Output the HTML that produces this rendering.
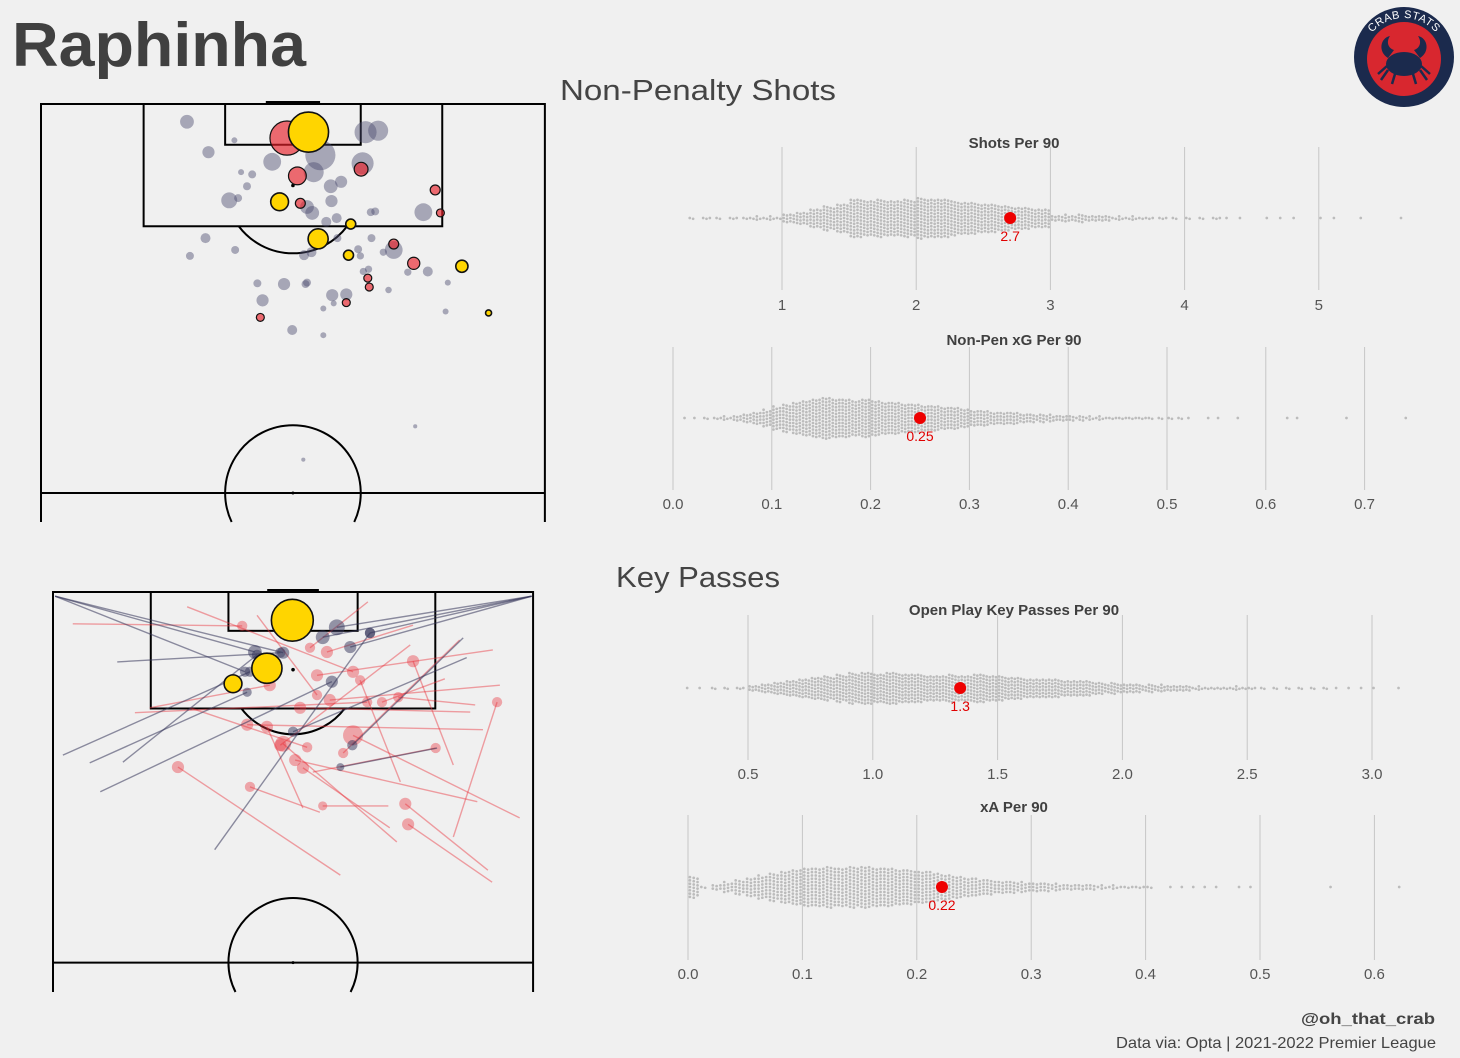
<!DOCTYPE html>
<html><head><meta charset="utf-8"><style>
html,body{margin:0;padding:0;background:#f0f0f0;}
svg{display:block;font-family:"Liberation Sans",sans-serif;}
</style></head><body>
<svg id="root" width="1460" height="1058" viewBox="0 0 1460 1058" xmlns="http://www.w3.org/2000/svg">
<rect x="0" y="0" width="1460" height="1058" fill="#f0f0f0"/>
<text x="12" y="66" font-size="62" font-weight="bold" fill="#404040" textLength="294" lengthAdjust="spacingAndGlyphs">Raphinha</text>
<text x="560" y="100" font-size="29" fill="#444" textLength="276" lengthAdjust="spacingAndGlyphs">Non-Penalty Shots</text>
<text x="616" y="587" font-size="29" fill="#444" textLength="164" lengthAdjust="spacingAndGlyphs">Key Passes</text>
<text x="1435" y="1024" font-size="16" font-weight="bold" fill="#444" text-anchor="end" textLength="134" lengthAdjust="spacingAndGlyphs">@oh_that_crab</text>
<text x="1436" y="1048" font-size="16" fill="#444" text-anchor="end" textLength="320" lengthAdjust="spacingAndGlyphs">Data via: Opta | 2021-2022 Premier League</text>
<g>
  <defs><path id="logoArc" d="M1362,60 A42,42 0 0 1 1446,60"/></defs>
  <circle cx="1404" cy="57" r="50" fill="#1b2a4d"/>
  <circle cx="1404" cy="59" r="37" fill="#d8272f"/>
  <text font-size="11" fill="#fff" letter-spacing="0.5"><textPath href="#logoArc" startOffset="50%" text-anchor="middle">CRAB STATS</textPath></text>
  <ellipse cx="1404" cy="64" rx="18" ry="12" fill="#1b2a4d"/>
  <path d="M1388,58 C1378,52 1380,38 1390,36 C1386,42 1388,48 1394,50 Z" fill="#1b2a4d"/>
  <path d="M1420,58 C1430,52 1428,38 1418,36 C1422,42 1420,48 1414,50 Z" fill="#1b2a4d"/>
  <path d="M1387,66 L1378,74 M1388,70 L1381,80 M1421,66 L1430,74 M1420,70 L1427,80 M1395,74 L1392,84 M1413,74 L1416,84" stroke="#1b2a4d" stroke-width="2.5" fill="none"/>
</g>
<g id="shotPitch"></g>
<g id="passPitch"></g>
<g id="swarms"></g>
</svg>
<script>
// ---------- DATA ----------
const shotX = [19.7,26.1,22.6,33.2,36.1,37.7,43.8,45.5,31.2,36.8,34.6,43.4,43.2,27.0,28.5,27.8,39.1,40.5,32.2,25.4,26.6,35.0,35.9,36.6,39.2,38.5,39.9,44.5,45.1,51.6,53.2,53.9,41.8,37.4,40.0,22.2,26.2,20.1,35.5,36.5,44.6,42.8,43.1,47.6,47.6,46.2,41.5,50.3,52.2,49.5,56.8,43.5,44.2,44.1,44.3,29.2,32.8,35.7,35.9,46.9,54.9,29.9,39.3,41.2,41.2,38.1,39.5,54.6,60.4,29.6,33.9,38.1,50.5,35.4];
const shotY = [2.4,4.9,6.5,4.6,3.8,6.9,3.8,3.6,7.8,9.2,9.7,8.0,8.8,9.2,9.5,11.1,11.1,10.5,13.2,13.0,12.7,13.4,13.9,14.7,13.1,15.9,15.4,14.6,14.5,14.6,11.6,14.7,16.2,18.2,18.1,18.1,19.7,20.5,20.4,20.0,18.1,19.6,20.5,19.7,18.9,20.0,20.4,21.5,22.6,22.7,21.9,22.6,22.3,23.5,24.7,24.2,24.3,24.3,24.1,25.1,24.1,26.5,25.8,25.7,26.8,27.6,26.9,28.0,28.2,28.8,30.5,31.2,43.5,48.0];
const shotXG = [.09,.017,.07,.55,.76,.43,.23,.19,.15,.19,.15,.23,.09,.017,.03,.03,.09,.07,.15,.12,.03,.047,.09,.09,.07,.047,.047,.03,.03,.15,.047,.03,.047,.19,.03,.047,.03,.03,.047,.047,.03,.03,.025,.15,.047,.025,.047,.07,.047,.025,.07,.025,.025,.03,.03,.03,.07,.03,.03,.02,.017,.07,.07,.07,.03,.017,.017,.017,.017,.03,.047,.017,.008,.008];
const shotOutcome = ['m','m','m','s','g','m','m','m','m','m','s','m','s','m','m','m','m','m','g','m','m','s','m','m','m','m','m','m','m','m','s','s','g','g','m','m','m','m','m','m','m','m','m','m','s','m','g','s','m','m','g','m','m','s','s','m','m','m','m','m','m','m','m','m','s','m','m','m','g','s','m','m','m','m'];

const passSX = [0.3,0.3,0.3,67.8,67.8,67.8,67.8,1.4,5.2,6.7,9.9,22.9,54.4,9.1,58.6,58.1,2.8,56.7,56.7,40.7,37.8,47.5,61.6,62.2,36.8,66.1,48.7,60.1,47.7,60.9,35.4,62.3,51.0,63.3,59.1,11.6,55.5,59.8,19.0,13.7,44.6,57.6,19.4,49.2,28.9,50.6,33.9,30.3,25.5];
const passSY = [0.6,0.6,0.6,0.6,0.6,0.6,0.6,23.1,24.2,28.3,24.1,36.5,22.1,9.9,9.3,6.5,4.5,24.5,34.7,40.1,31.2,30.3,39.4,41.1,25.5,32.0,35.4,29.7,33.4,19.5,30.6,8.2,4.7,13.2,17.0,17.1,12.3,16.0,2.1,16.4,1.4,6.8,16.4,26.9,3.3,7.5,4.0,10.8,13.0];
const passEX = [28.6,32.6,27.2,40.2,38.2,42.1,44.9,27.9,27.5,39.5,28.9,44.9,40.7,32.2,34.0,42.4,26.8,51.0,62.9,17.7,27.9,38.2,49.9,50.3,54.2,42.5,32.6,34.3,35.4,27.5,30.3,37.4,38.8,39.2,35.0,44.5,46.6,48.9,42.5,30.7,36.4,41.1,36.0,43.5,37.4,32.2,33.9,30.3,25.5];
const passEY = [8.5,8.6,11.3,5.0,6.4,7.8,5.8,11.3,14.2,12.7,8.9,5.8,24.8,8.6,19.8,21.7,4.8,9.8,15.6,24.8,27.6,30.3,30.0,32.9,22.1,20.3,21.5,23.8,24.9,18.8,19.1,11.8,8.5,15.3,16.4,15.6,15.6,14.9,11.3,13.2,7.9,22.8,22.0,12.5,14.6,21.7,4.0,10.8,13.0];
const passXG = [.09,.07,.05,.12,.09,.07,.05,.05,.04,.07,.05,.05,.03,.05,.05,.05,.05,.07,.05,.07,.05,.04,.07,.07,.05,.19,.12,.07,.07,.07,.07,.07,.07,.07,.07,.05,.05,.05,.07,.07,.05,.05,.05,.05,.05,.07,.83,.43,.15];
const passType = ['n','n','n','n','n','n','n','n','n','n','n','n','n','n','n','n','r','r','r','r','r','r','r','r','r','r','r','r','r','r','r','r','r','r','r','r','r','r','r','r','r','r','r','r','r','r','g','g','g'];

const shotsTicks = [1,2,3,4,5];
const shotsTickLabels = ['1','2','3','4','5'];
const shotsCounts = [2,3,2,3,4,5,5,12,16,24,30,36,48,44,46,44,46,50,48,46,40,38,36,32,28,26,24,8,9,10,8,6,5,5,3,3,2,2,2,3,1,1,0,1,1,1,0,1,1,0,1,0,0,1];
const shotsPlayer = 2.7; const shotsPlayerLabel = '2.7';
const xgTicks = [0,0.1,0.2,0.3,0.4,0.5,0.6,0.7];
const xgTickLabels = ['0.0','0.1','0.2','0.3','0.4','0.5','0.6','0.7'];
const xgCounts = [1,1,2,3,4,6,9,12,16,22,26,30,33,36,39,36,36,33,36,33,30,30,27,27,24,24,21,21,18,15,15,12,12,12,9,8,8,7,6,5,5,4,4,3,3,3,3,2,2,2,2,1,0,1,1,0,1,0,0,0,0,1,1,0,0,0,0,1,0,0,0,0,0,1];
const xgPlayer = 0.25; const xgPlayerLabel = '0.25';
const kpTicks = [0.5,1.0,1.5,2.0,2.5,3.0];
const kpTickLabels = ['0.5','1.0','1.5','2.0','2.5','3.0'];
const kpCounts = [1,1,2,2,3,8,12,16,20,24,28,30,34,38,40,36,40,36,36,32,32,34,32,36,32,30,28,24,24,24,20,20,18,14,14,12,10,10,9,8,6,5,4,4,5,3,2,2,2,2,2,2,1,1,1,1,0,1];
const kpPlayer = 1.35; const kpPlayerLabel = '1.3';
const xaTicks = [0,0.1,0.2,0.3,0.4,0.5,0.6];
const xaTickLabels = ['0.0','0.1','0.2','0.3','0.4','0.5','0.6'];
const xaCounts = [20,2,6,10,14,18,22,26,30,33,36,36,38,36,38,39,36,36,33,32,30,28,24,21,18,16,14,12,11,10,9,8,7,6,6,5,4,4,3,3,2,0,1,1,1,1,1,0,1,1,0,0,0,0,0,0,1,0,0,0,0,0,1];
const xaPlayer = 0.222; const xaPlayerLabel = '0.22';

// ---------- HELPERS ----------
const NS = 'http://www.w3.org/2000/svg';
function mk(tag, attrs, parent){ const e=document.createElementNS(NS,tag); for(const k in attrs) e.setAttribute(k,attrs[k]); parent.appendChild(e); return e; }

function drawPitch(g, left, top, scale, bottom){
  const X = m => left + m*scale, Y = m => top + m*scale;
  const st = {stroke:'#000','stroke-width':2,fill:'none'};
  const lines = mk('path', Object.assign({d:`M${X(0)},${bottom} L${X(0)},${Y(0)} L${X(68)},${Y(0)} L${X(68)},${bottom} M${X(0)},${Y(52.5)} L${X(68)},${Y(52.5)}`}, st), g);
   
  const box = mk('rect', Object.assign({x:X(13.85),y:Y(0),width:40.3*scale,height:16.5*scale}, st), g);
   
  const six = mk('rect', Object.assign({x:X(24.85),y:Y(0),width:18.3*scale,height:5.5*scale}, st), g);
   
  const goal = mk('line',{x1:X(30.34),y1:Y(0)-1,x2:X(37.66),y2:Y(0)-1,stroke:'#000','stroke-width':4}, g);
   
  const r = 9.15*scale, py = Y(11), cx = X(34);
  const dy = Y(16.5)-py, dx = Math.sqrt(r*r-dy*dy);
  const arc = mk('path', Object.assign({d:`M${cx-dx},${Y(16.5)} A${r},${r} 0 0 0 ${cx+dx},${Y(16.5)}`}, st), g);
   
  const spot = mk('circle',{cx:cx,cy:py,r:1.8,fill:'#000'}, g);
   
  const hy = Y(52.5), h2 = bottom - hy, cdx = Math.sqrt(Math.max(0,r*r-h2*h2));
  const cc = mk('path', Object.assign({d:`M${cx-cdx},${bottom} A${r},${r} 0 1 1 ${cx+cdx},${bottom}`}, st), g);
   
  const cs = mk('circle',{cx:cx,cy:hy,r:1.5,fill:'#000'}, g);
   
  return {X, Y};
}
const rad = v => 23*Math.sqrt(v);

(function(){
  const g = document.getElementById('shotPitch');
  const {X,Y} = drawPitch(g, 41, 104, 7.41, 522);
  const order = shotX.map((_,i)=>i).sort((a,b)=>{const p={m:0,s:1,g:2}; return p[shotOutcome[a]]-p[shotOutcome[b]] || shotXG[b]-shotXG[a];});
  for(const i of order){
    const o = shotOutcome[i];
    const a = {cx:X(shotX[i]), cy:Y(shotY[i]), r:rad(shotXG[i])};
    if(o==='m'){ a.fill='#4c4c6e'; a['fill-opacity']=0.45; }
    else if(o==='s'){ a.fill='#e8202a'; a['fill-opacity']=0.65; a.stroke='#111'; a['stroke-width']=1.2; }
    else { a.fill='#ffd500'; a.stroke='#111'; a['stroke-width']=1.6; }
    const c = mk('circle', a, g);
    
    
  }
})();

(function(){
  const g = document.getElementById('passPitch');
  const {X,Y} = drawPitch(g, 53, 592, 7.06, 992);
  const order = passSX.map((_,i)=>i).sort((a,b)=>{const p={r:0,n:1,g:2}; return p[passType[a]]-p[passType[b]];});
  for(const i of order){
    const t = passType[i];
    const col = t==='n' ? '#34345a' : '#e8323c';
    if(t!=='g'){
      const l = mk('line',{x1:X(passSX[i]),y1:Y(passSY[i]),x2:X(passEX[i]),y2:Y(passEY[i]),stroke:col,'stroke-width':1.4,'stroke-opacity':t==='n'?0.55:0.45}, g);
      
      
      const c = mk('circle',{cx:X(passEX[i]),cy:Y(passEY[i]),r:rad(passXG[i]),fill:col,'fill-opacity':t==='n'?0.5:0.4}, g);
      
      
    } else {
      const c = mk('circle',{cx:X(passEX[i]),cy:Y(passEY[i]),r:rad(passXG[i]),fill:'#ffd500',stroke:'#111','stroke-width':1.6}, g);
      
      
    }
  }
})();

function swarm(cfg, ticks, tickLabels, counts, player, playerLabel){
  const root = document.getElementById('swarms');
  const g = mk('g',{}, root);
  
  
  const sx = v => cfg.px0 + (v - cfg.v0)*cfg.ppu;
  ticks.forEach((t,i)=>{
    const l = mk('line',{x1:sx(t),x2:sx(t),y1:cfg.gTop,y2:cfg.gBot,stroke:'#c6c6c6','stroke-width':1}, g);
    
    
    const tx = mk('text',{x:sx(t),y:cfg.labY,'font-size':15,fill:'#555','text-anchor':'middle'}, g);
    tx.textContent = tickLabels[i];
    
    
  });
  const tt = mk('text',{x:1014,y:cfg.titleY,'font-size':15,'font-weight':'bold',fill:'#404040','text-anchor':'middle'}, g);
  tt.textContent = cfg.title;
  
  
  const spacing = 3.3, colW = 3.4;
  counts.forEach((c,i)=>{
    if(!c) return;
    const a = sx(cfg.b0 + i*cfg.step), b = sx(cfg.b0 + (i+1)*cfg.step);
    const k = Math.max(1, Math.round((b-a)/colW));
    for(let j=0;j<k;j++){
      const n = Math.floor(c/k) + (j < c%k ? 1 : 0);
      const x = a + (j+0.5)*(b-a)/k;
      for(let d=0; d<n; d++){
        const dot = mk('circle',{cx:x, cy:cfg.cy + (d-(n-1)/2)*spacing + (j%2?0.8:0), r:1.35, fill:'#bcbcbc'}, g);
        
        
      }
    }
  });
  const pd = mk('circle',{cx:sx(player),cy:cfg.cy,r:6,fill:'#ee0000'}, g);
  
  
  const pl = mk('text',{x:sx(player),y:cfg.cy+23,'font-size':14,fill:'#e00000','text-anchor':'middle'}, g);
  pl.textContent = playerLabel;
  
  
}
swarm({name:'shots-per-90-swarm',title:'Shots Per 90',titleY:148,cy:218,px0:782,v0:1,ppu:134.2,gTop:147,gBot:290,labY:310,b0:0.3,step:0.1}, shotsTicks, shotsTickLabels, shotsCounts, shotsPlayer, shotsPlayerLabel);
swarm({name:'npxg-per-90-swarm',title:'Non-Pen xG Per 90',titleY:345,cy:418,px0:673,v0:0,ppu:988,gTop:347,gBot:490,labY:509,b0:0.01,step:0.01}, xgTicks, xgTickLabels, xgCounts, xgPlayer, xgPlayerLabel);
swarm({name:'key-passes-per-90-swarm',title:'Open Play Key Passes Per 90',titleY:615,cy:688,px0:748,v0:0.5,ppu:249.6,gTop:615,gBot:760,labY:779,b0:0.25,step:0.05}, kpTicks, kpTickLabels, kpCounts, kpPlayer, kpPlayerLabel);
swarm({name:'xa-per-90-swarm',title:'xA Per 90',titleY:812,cy:887,px0:688,v0:0,ppu:1144,gTop:815,gBot:960,labY:979,b0:0,step:0.01}, xaTicks, xaTickLabels, xaCounts, xaPlayer, xaPlayerLabel);
</script>
</body></html>
